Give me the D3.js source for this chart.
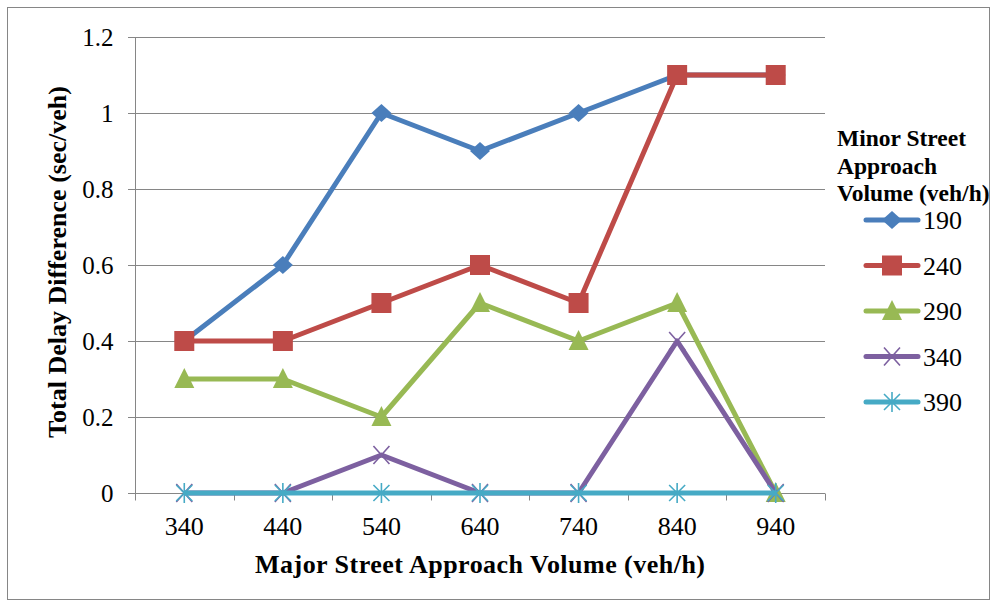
<!DOCTYPE html>
<html>
<head>
<meta charset="utf-8">
<script src="https://cdn.jsdelivr.net/npm/d3@7"></script>
<style>
  body { margin: 0; background: #fff; }
</style>
</head>
<body>
<svg id="chart" width="997" height="607"></svg>
<script>
// data
const majorVolumes = ["340", "440", "540", "640", "740", "840", "940"];
const minorVolumes = ["190", "240", "290", "340", "390"];
const v190 = [0.4, 0.6, 1.0, 0.9, 1.0, 1.1, 1.1];
const v240 = [0.4, 0.4, 0.5, 0.6, 0.5, 1.1, 1.1];
const v290 = [0.3, 0.3, 0.2, 0.5, 0.4, 0.5, 0];
const v340 = [0, 0, 0.1, 0, 0, 0.4, 0];
const v390 = [0, 0, 0, 0, 0, 0, 0];
const yTicks = [0, 0.2, 0.4, 0.6, 0.8, 1, 1.2];

const FONT = "Liberation Serif";
const colors = ["#4a7ebb", "#be4b48", "#98b954", "#7d60a0", "#46aac5"];
const shapes = ["diamond", "square", "triangle", "x", "star"];
const series = [v190, v240, v290, v340, v390].map((vals, i) => ({
  name: minorVolumes[i], values: vals, color: colors[i], shape: shapes[i]
}));

const svg = d3.select("#chart").attr("font-family", FONT);
const plotLeft = 135, plotRight = 825, plotTop = 37, plotBottom = 493;

// outer frame
svg.append("rect")
   .attr("x", 7.5).attr("y", 7.5)
   .attr("width", 982).attr("height", 592)
   .attr("fill", "none").attr("stroke", "#868686").attr("stroke-width", 1);

const x = d3.scaleBand().domain(majorVolumes).range([plotLeft, plotRight]);
const y = d3.scaleLinear().domain([0, 1.2]).range([plotBottom, plotTop]);

// horizontal gridlines
svg.append("g")
   .selectAll("line")
   .data(yTicks.filter(d => d > 0)).enter()
   .append("line")
   .attr("x1", plotLeft - 7).attr("x2", plotRight)
   .attr("y1", d => Math.round(y(d)) + 0.5).attr("y2", d => Math.round(y(d)) + 0.5)
   .attr("stroke", "#868686").attr("stroke-width", 1);

// y axis
const yAxis = svg.append("g")
   .attr("transform", `translate(${plotLeft + 0.5},0)`)
   .call(d3.axisLeft(y).tickValues(yTicks).tickSize(7).tickPadding(15).tickFormat(d3.format("")));
yAxis.attr("font-family", FONT);
yAxis.select(".domain").attr("stroke", "#868686").attr("d", `M0,${plotTop}V${plotBottom}`);
yAxis.selectAll(".tick line").attr("stroke", "#868686");
yAxis.selectAll("text").attr("font-size", 25).attr("fill", "#000")
     .attr("font-family", FONT).attr("dy", "0.34em");

// x axis
const xAxis = svg.append("g")
   .attr("transform", `translate(0,${plotBottom + 0.5})`);
xAxis.append("line")
     .attr("x1", plotLeft - 7).attr("x2", plotRight).attr("y1", 0).attr("y2", 0)
     .attr("stroke", "#868686");
xAxis.selectAll(".xtick")
     .data(d3.range(majorVolumes.length + 1)).enter()
     .append("line")
     .attr("x1", i => Math.round(plotLeft + i * x.step()) + 0.5)
     .attr("x2", i => Math.round(plotLeft + i * x.step()) + 0.5)
     .attr("y1", 0).attr("y2", 7)
     .attr("stroke", "#868686");
xAxis.selectAll(".xlab")
     .data(majorVolumes).enter()
     .append("text")
     .attr("x", d => x(d) + x.bandwidth() / 2)
     .attr("y", 41)
     .attr("text-anchor", "middle")
     .attr("font-size", 26)
     .attr("font-family", FONT)
     .text(d => d);

// axis titles
svg.append("text")
   .attr("x", 480).attr("y", 573)
   .attr("text-anchor", "middle")
   .attr("font-size", 26).attr("font-weight", "bold")
   .attr("font-family", FONT)
   .attr("textLength", 450)
   .text("Major Street Approach Volume  (veh/h)");
svg.append("text")
   .attr("transform", "translate(66,262) rotate(-90)")
   .attr("text-anchor", "middle")
   .attr("font-size", 26).attr("font-weight", "bold")
   .attr("font-family", FONT)
   .attr("textLength", 352)
   .text("Total Delay Difference (sec/veh)");

function drawMarker(g, shape, color) {
  if (shape === "diamond") {
    g.append("path").attr("d", "M0,-9L10,0L0,9L-10,0Z").attr("fill", color);
  } else if (shape === "square") {
    g.append("rect").attr("x", -10).attr("y", -10).attr("width", 20).attr("height", 20).attr("fill", color);
  } else if (shape === "triangle") {
    g.append("path").attr("d", "M0,-11L10,9L-10,9Z").attr("fill", color);
  } else if (shape === "x") {
    g.append("path").attr("d", "M-8,-9L8,9M-8,9L8,-9").attr("stroke", color).attr("stroke-width", 1.6);
  } else {
    g.append("path").attr("d", "M-8,-8L8,8M-8,8L8,-8M0,-10L0,10").attr("stroke", color).attr("stroke-width", 1.6);
  }
}

const line = d3.line()
   .defined(d => d != null)
   .x((d, i) => x(majorVolumes[i]) + x.bandwidth() / 2)
   .y(d => y(d));

series.forEach(s => {
  const g = svg.append("g");
  g.append("path")
   .attr("d", line(s.values))
   .attr("fill", "none")
   .attr("stroke", s.color)
   .attr("stroke-width", 5)
   .attr("stroke-linejoin", "round");
  s.values.forEach((v, i) => {
    if (v == null) return;
    const m = g.append("g")
      .attr("transform", `translate(${x(majorVolumes[i]) + x.bandwidth() / 2},${y(v)})`);
    drawMarker(m, s.shape, s.color);
  });
});

// legend
const legend = svg.append("g");
["Minor Street", "Approach", "Volume (veh/h)"].forEach((t, i) => {
  legend.append("text")
    .attr("x", 837).attr("y", 146 + i * 27.5)
    .attr("font-size", 23.5).attr("font-weight", "bold")
    .attr("font-family", FONT)
    .text(t);
});
series.forEach((s, i) => {
  const ly = 220 + i * 45.5;
  legend.append("line")
    .attr("x1", 866).attr("x2", 918).attr("y1", ly).attr("y2", ly)
    .attr("stroke", s.color).attr("stroke-width", 5).attr("stroke-linecap", "round");
  const m = legend.append("g").attr("transform", `translate(892,${ly})`);
  drawMarker(m, s.shape, s.color);
  legend.append("text")
    .attr("x", 923).attr("y", ly + 9)
    .attr("font-size", 26)
    .attr("font-family", FONT)
    .text(s.name);
});
</script>
</body>
</html>
